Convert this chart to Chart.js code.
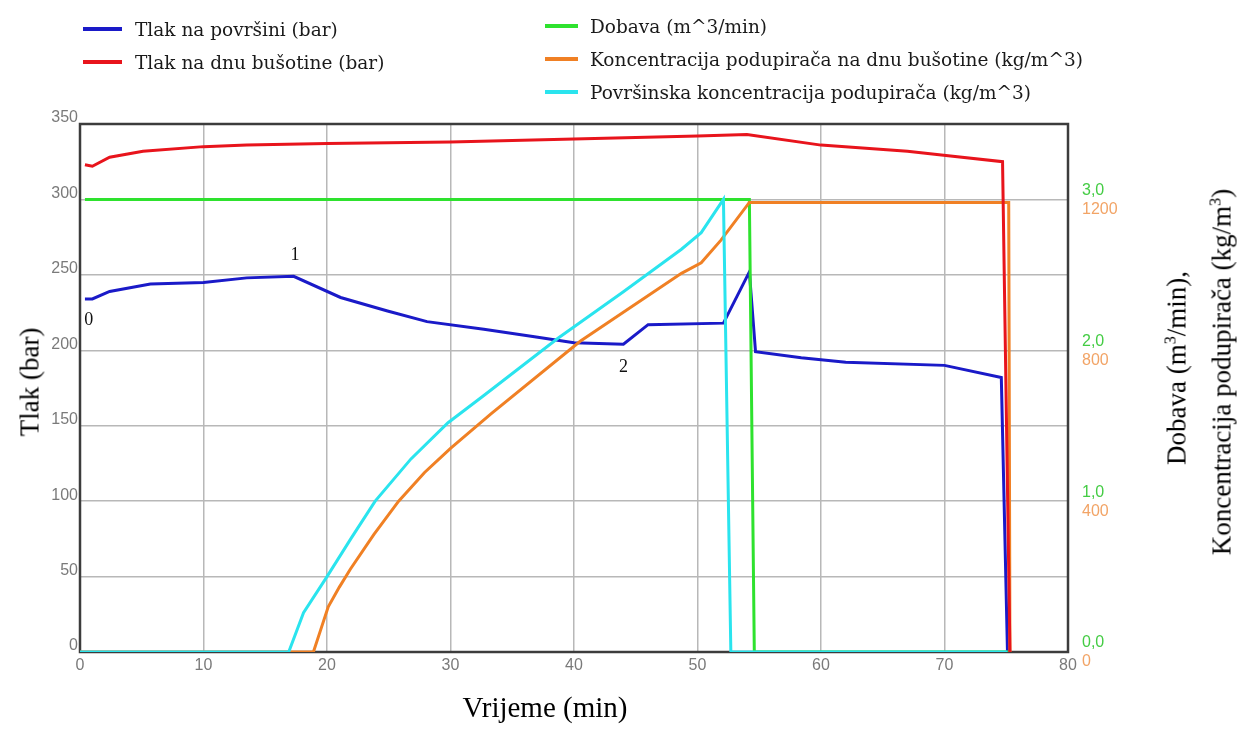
<!DOCTYPE html>
<html>
<head>
<meta charset="utf-8">
<script src="https://cdn.jsdelivr.net/npm/chart.js@4.4.1/dist/chart.umd.min.js"></script>
<style>
  body { margin: 0; background: #fff; }
  #wrap { position: relative; width: 1253px; height: 729px; }
  .lg-text { position: absolute; font-family: "DejaVu Serif", serif; font-size: 18.5px; color: #1a1a1a; white-space: nowrap; transform: translateY(-50%); }
  .lg-swatch { position: absolute; height: 4px; transform: translateY(-50%); }
  .title { position: absolute; font-family: "Liberation Serif", serif; color: #000; white-space: nowrap; transform: translate(-50%, -50%); }
  .rot { transform: translate(-50%, -50%) rotate(-90deg); }
  sup { font-size: 60%; }
</style>
</head>
<body>
<div id="wrap">
  <canvas id="chart" width="1253" height="729"></canvas>
  <div class="title rot" style="left:30px; top:382px; font-size:27px;">Tlak (bar)</div>
  <div class="title" style="left:545px; top:707px; font-size:29px;">Vrijeme (min)</div>
  <div class="title rot" style="left:1177px; top:368px; font-size:27px;">Dobava (m<sup>3</sup>/min),</div>
  <div class="title rot" style="left:1222px; top:372px; font-size:27px;">Koncentracija podupirača (kg/m<sup>3</sup>)</div>
</div>
<script>
// ---------------------------------------------------------------
// podaci očitani sa slike
// ---------------------------------------------------------------
const seriesNames = [
  "Tlak na površini (bar)",
  "Tlak na dnu bušotine (bar)",
  "Dobava (m^3/min)",
  "Koncentracija podupirača na dnu bušotine (kg/m^3)",
  "Površinska koncentracija podupirača (kg/m^3)",
];
const seriesColors = ["#1a1ac8", "#e8141c", "#2ee22e", "#f08024", "#2ae4ee"];

const surfaceTime = [0.4, 1, 2.4, 5.7, 10, 13.5, 17.3, 21.1, 24.9, 28.1, 32.7, 36.8, 40, 44, 46, 52.1, 54.2, 54.7, 58.4, 62, 70, 74.6, 75.1];
const surfacePressure = [234, 234, 239, 244, 245, 248, 249, 235, 226, 219, 214, 209, 205, 204, 217, 218, 252, 199, 195, 192, 190, 182, 0];

const bottomTime = [0.4, 1, 2.4, 5.1, 10, 13.5, 20, 30, 40, 50, 54, 60, 67, 70.3, 74.7, 75.3];
const bottomPressure = [323, 322, 328, 332, 335, 336, 337, 338, 340, 342, 343, 336, 332, 329, 325, 0];

const rateTime = [0.4, 54.2, 54.6, 75.2];
const rateValues = [3, 3, 0, 0];

const bottomConcTime = [0, 18.9, 19.5, 20.1, 21, 21.9, 23.8, 25.8, 27.9, 30, 33.3, 40.5, 48.7, 50.3, 51.9, 54.2, 75.2, 75.3];
const bottomConc = [0, 0, 60, 120, 172, 220, 312, 400, 476, 540, 632, 824, 1004, 1032, 1092, 1192, 1192, 0];

const surfaceConcTime = [0, 16.9, 18.1, 20, 22, 23.9, 26.8, 29.8, 32.7, 38.7, 44, 48.7, 50.3, 52.1, 52.7, 75.1];
const surfaceConc = [0, 0, 104, 200, 304, 400, 512, 608, 680, 832, 955, 1068, 1112, 1200, 0, 0];

// oznake točaka 0, 1, 2
const noteLabels = ["0", "1", "2"];
const noteTimes = [0.7, 17.4, 44];
const notePressures = [220, 263, 189];

// ---------------------------------------------------------------
// legenda (HTML)
// ---------------------------------------------------------------
const legendSlots = [
  { sx: 83, sw: 39, tx: 135, y: 29 },
  { sx: 83, sw: 39, tx: 135, y: 62 },
  { sx: 545, sw: 33, tx: 590, y: 26 },
  { sx: 545, sw: 33, tx: 590, y: 59 },
  { sx: 545, sw: 33, tx: 590, y: 92 },
];

const wrap = document.getElementById("wrap");
seriesNames.forEach((name, i) => {
  const s = legendSlots[i];
  const sw = document.createElement("div");
  sw.className = "lg-swatch";
  sw.style.cssText = `left:${s.sx}px; top:${s.y}px; width:${s.sw}px; background:${seriesColors[i]};`;
  wrap.appendChild(sw);
  const tx = document.createElement("div");
  tx.className = "lg-text";
  tx.style.cssText = `left:${s.tx}px; top:${s.y}px;`;
  tx.textContent = name;
  wrap.appendChild(tx);
});

// ---------------------------------------------------------------
// graf
// ---------------------------------------------------------------
const toPoints = (xs, ys) => xs.map((x, i) => ({ x, y: ys[i] }));

const tickFont = { family: "Liberation Sans", size: 16 };
const gridStyle = { color: "#b8b8b8", lineWidth: 1.5, drawTicks: false };

const frameAndNotes = {
  id: "frameAndNotes",
  beforeDatasetsDraw(chart) {
    const { ctx, chartArea: a } = chart;
    ctx.save();
    ctx.strokeStyle = "#3c3c3c";
    ctx.lineWidth = 2.5;
    ctx.strokeRect(a.left, a.top, a.right - a.left, a.bottom - a.top);
    ctx.restore();
  },
  afterDatasetsDraw(chart) {
    const { ctx, scales } = chart;
    ctx.save();
    // brojke 0, 1, 2 uz plavu krivulju
    ctx.font = '18px "Liberation Serif"';
    ctx.fillStyle = "#111";
    ctx.textAlign = "center";
    ctx.textBaseline = "middle";
    noteLabels.forEach((t, i) => {
      ctx.fillText(t, scales.x.getPixelForValue(noteTimes[i]), scales.y.getPixelForValue(notePressures[i]));
    });
    // narančaste oznake koncentracije ispod zelenih (os yC je skrivena)
    const yC = scales.yC;
    ctx.font = '16px "Liberation Sans"';
    ctx.fillStyle = "#f2a466";
    ctx.textAlign = "left";
    yC.ticks.forEach((t) => {
      if (t.value > 1200) return;
      ctx.fillText(String(t.value), scales.yR.left + 14, yC.getPixelForValue(t.value) + 10);
    });
    ctx.restore();
  },
};

const line = (i, xs, ys, axis, order) => ({
  label: seriesNames[i],
  data: toPoints(xs, ys),
  borderColor: seriesColors[i],
  backgroundColor: seriesColors[i],
  borderWidth: 3,
  pointRadius: 0,
  tension: 0,
  yAxisID: axis,
  order,
});

new Chart(document.getElementById("chart"), {
  type: "line",
  data: {
    datasets: [
      line(0, surfaceTime, surfacePressure, "y", 5),
      line(1, bottomTime, bottomPressure, "y", 1),
      line(2, rateTime, rateValues, "yR", 4),
      line(3, bottomConcTime, bottomConc, "yC", 3),
      line(4, surfaceConcTime, surfaceConc, "yC", 2),
    ],
  },
  options: {
    responsive: false,
    animation: false,
    layout: { padding: { top: 124, right: 0, left: 0, bottom: 0 } },
    plugins: { legend: { display: false }, tooltip: { enabled: false } },
    scales: {
      x: {
        type: "linear",
        min: 0,
        max: 80,
        ticks: { stepSize: 10, color: "#7a7a7a", font: tickFont, padding: 4 },
        grid: gridStyle,
        border: { display: false },
        afterFit(s) { s.height = 77; },
      },
      y: {
        position: "left",
        min: 0,
        max: 350,
        ticks: { stepSize: 50, color: "#7a7a7a", font: tickFont, padding: 2, labelOffset: -6 },
        grid: gridStyle,
        border: { display: false },
        afterFit(s) { s.width = 80; },
      },
      yR: {
        position: "right",
        min: 0,
        max: 3.5,
        ticks: {
          stepSize: 1,
          includeBounds: false,
          color: "#44cc44",
          font: tickFont,
          padding: 14,
          labelOffset: -9,
          callback: (v) => v.toFixed(1).replace(".", ","),
        },
        grid: { display: false, drawTicks: false },
        border: { display: false },
        afterFit(s) { s.width = 185; },
      },
      yC: {
        display: false,
        min: 0,
        max: 1400,
        ticks: { stepSize: 400, includeBounds: false },
      },
    },
  },
  plugins: [frameAndNotes],
});
</script>
</body>
</html>
